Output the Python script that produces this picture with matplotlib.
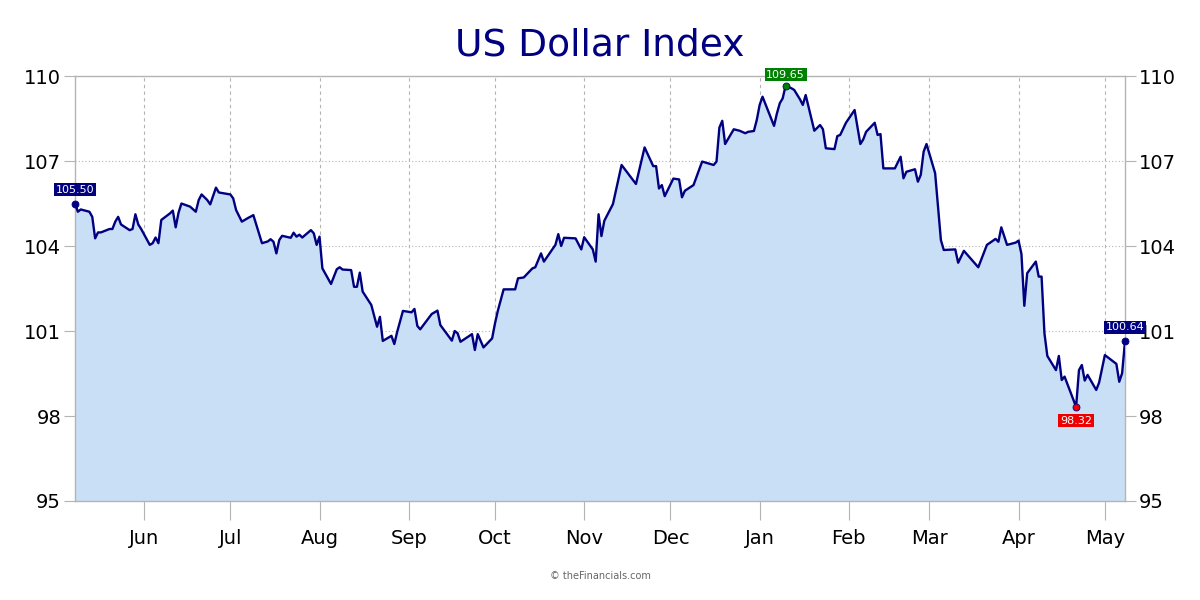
import matplotlib
matplotlib.use("Agg")
import matplotlib.pyplot as plt
import matplotlib.dates as mdates
import numpy as np
import pandas as pd

dates = [
 "2024-05-08","2024-05-09","2024-05-10","2024-05-13","2024-05-14","2024-05-15","2024-05-16","2024-05-17",
 "2024-05-20","2024-05-21","2024-05-22","2024-05-23","2024-05-24","2024-05-27","2024-05-28","2024-05-29",
 "2024-05-30","2024-05-31","2024-06-03","2024-06-04","2024-06-05","2024-06-06","2024-06-07","2024-06-10",
 "2024-06-11","2024-06-12","2024-06-13","2024-06-14","2024-06-17","2024-06-19","2024-06-20","2024-06-21",
 "2024-06-23","2024-06-24","2024-06-26","2024-06-27","2024-07-01","2024-07-02","2024-07-03","2024-07-05",
 "2024-07-07","2024-07-09","2024-07-12","2024-07-14","2024-07-15","2024-07-16","2024-07-17","2024-07-18",
 "2024-07-19","2024-07-22","2024-07-23","2024-07-24","2024-07-25","2024-07-26","2024-07-29","2024-07-30",
 "2024-07-31","2024-08-01","2024-08-02","2024-08-05","2024-08-07","2024-08-08","2024-08-09","2024-08-12",
 "2024-08-13","2024-08-14","2024-08-15","2024-08-16","2024-08-19","2024-08-21","2024-08-22","2024-08-23",
 "2024-08-26","2024-08-27","2024-08-28","2024-08-30","2024-09-02","2024-09-03","2024-09-04","2024-09-05",
 "2024-09-09","2024-09-11","2024-09-12","2024-09-16","2024-09-17","2024-09-18","2024-09-19","2024-09-23",
 "2024-09-24","2024-09-25","2024-09-27","2024-09-30","2024-10-01","2024-10-02","2024-10-04","2024-10-08",
 "2024-10-09","2024-10-11","2024-10-14","2024-10-15","2024-10-17","2024-10-18","2024-10-22","2024-10-23",
 "2024-10-24","2024-10-25","2024-10-29","2024-10-31","2024-11-01","2024-11-04","2024-11-05","2024-11-06",
 "2024-11-07","2024-11-08","2024-11-11","2024-11-14","2024-11-19","2024-11-22","2024-11-25","2024-11-26",
 "2024-11-27","2024-11-28","2024-11-29","2024-12-02","2024-12-04","2024-12-05","2024-12-06","2024-12-09",
 "2024-12-12","2024-12-16","2024-12-17","2024-12-18","2024-12-19","2024-12-20","2024-12-23","2024-12-25",
 "2024-12-27","2024-12-28","2024-12-30","2024-12-31","2025-01-01","2025-01-02","2025-01-06","2025-01-07",
 "2025-01-08","2025-01-09","2025-01-10","2025-01-12","2025-01-13","2025-01-15","2025-01-16","2025-01-17",
 "2025-01-20","2025-01-22","2025-01-23","2025-01-24","2025-01-27","2025-01-28","2025-01-29","2025-01-31",
 "2025-02-03","2025-02-05","2025-02-06","2025-02-07","2025-02-10","2025-02-11","2025-02-12","2025-02-13",
 "2025-02-17","2025-02-19","2025-02-20","2025-02-21","2025-02-24","2025-02-25","2025-02-26","2025-02-27",
 "2025-02-28","2025-03-03","2025-03-05","2025-03-06","2025-03-10","2025-03-11","2025-03-13","2025-03-18",
 "2025-03-21","2025-03-24","2025-03-25","2025-03-26","2025-03-28","2025-03-31","2025-04-01","2025-04-02",
 "2025-04-03","2025-04-04","2025-04-07","2025-04-08","2025-04-09","2025-04-10","2025-04-11","2025-04-14",
 "2025-04-15","2025-04-16","2025-04-17","2025-04-21","2025-04-22","2025-04-23","2025-04-24","2025-04-25",
 "2025-04-28","2025-04-29","2025-05-01","2025-05-05","2025-05-06","2025-05-07","2025-05-08",
]
values = [
 105.50,105.21,105.29,105.21,105.03,104.27,104.48,104.48,
 104.60,104.60,104.86,105.03,104.76,104.56,104.60,105.12,
 104.76,104.60,104.04,104.10,104.30,104.10,104.92,105.15,
 105.25,104.66,105.18,105.50,105.39,105.21,105.62,105.82,
 105.62,105.47,106.06,105.89,105.82,105.68,105.27,104.86,
 104.98,105.09,104.10,104.16,104.24,104.15,103.74,104.21,
 104.36,104.29,104.47,104.33,104.40,104.30,104.56,104.45,
 104.04,104.33,103.21,102.66,103.18,103.25,103.17,103.15,
 102.56,102.56,103.06,102.39,101.92,101.15,101.50,100.65,
 100.83,100.54,100.97,101.71,101.66,101.78,101.18,101.06,
 101.60,101.72,101.21,100.66,101.00,100.92,100.62,100.89,
 100.33,100.89,100.42,100.74,101.27,101.72,102.47,102.47,
 102.86,102.89,103.21,103.25,103.74,103.45,104.04,104.42,
 104.00,104.29,104.27,103.88,104.31,103.88,103.45,105.12,
 104.35,104.89,105.48,106.86,106.19,107.48,106.82,106.82,
 106.03,106.15,105.76,106.38,106.35,105.72,105.95,106.15,
 106.98,106.86,106.98,108.18,108.42,107.60,108.12,108.07,
 107.98,108.03,108.06,108.45,108.98,109.27,108.24,108.68,
 109.04,109.21,109.65,109.57,109.51,109.18,108.98,109.33,
 108.07,108.27,108.12,107.45,107.42,107.88,107.92,108.35,
 108.80,107.60,107.76,108.03,108.35,107.92,107.95,106.74,
 106.74,107.15,106.39,106.62,106.71,106.27,106.51,107.33,
 107.60,106.57,104.21,103.86,103.88,103.41,103.83,103.25,
 104.04,104.25,104.15,104.66,104.04,104.12,104.19,103.72,
 101.89,103.04,103.45,102.92,102.92,100.92,100.12,99.62,
 100.12,99.27,99.39,98.32,99.62,99.80,99.25,99.45,
 98.92,99.18,100.15,99.84,99.21,99.51,100.64,
]
y_ticks = [95, 98, 101, 104, 107, 110]
month_labels = ["Jun","Jul","Aug","Sep","Oct","Nov","Dec","Jan","Feb","Mar","Apr","May"]
month_starts = ["2024-06-01","2024-07-01","2024-08-01","2024-09-01","2024-10-01","2024-11-01",
                "2024-12-01","2025-01-01","2025-02-01","2025-03-01","2025-04-01","2025-05-01"]

x = pd.to_datetime(dates)
y = np.array(values)
mx = pd.to_datetime(month_starts)

NAVY = "#000080"
FILL = "#c8dff5"
GRID = "#b4b4b4"

fig = plt.figure(figsize=(12, 6), dpi=100)
ax = fig.add_axes([0.0625, 0.165, 0.875, 0.7083])
ax.fill_between(x, y, 95, color=FILL, linewidth=0, zorder=1)
ax.plot(x, y, color=NAVY, linewidth=1.7, zorder=3)

ax.set_xlim(x[0], x[-1])
ax.set_ylim(95, 110)
ax.set_yticks(y_ticks)
ax.set_yticklabels([str(v) for v in y_ticks])
ax.tick_params(axis="y", which="both", labelsize=14, length=8, color=GRID, pad=2,
               labelleft=True, labelright=True, left=True, right=True)
ax.set_xticks(mx)
ax.set_xticklabels(month_labels)
ax.tick_params(axis="x", labelsize=14, length=14, color=GRID, pad=6)
ax.grid(True, axis="y", linestyle=(0, (1, 2)), color=GRID, linewidth=0.8, zorder=0)
ax.grid(True, axis="x", linestyle=(0, (3, 3)), color=GRID, linewidth=0.8, zorder=0)
ax.set_axisbelow(True)
for s in ["left", "right", "bottom", "top"]:
    ax.spines[s].set_color(GRID)
    ax.spines[s].set_linewidth(1.0)

fig.text(0.5, 0.925, "US Dollar Index", ha="center", va="center", fontsize=27, color=NAVY)
fig.text(0.5, 0.04, "© theFinancials.com", ha="center", va="center", fontsize=7, color="#666666")

imax = int(np.argmax(y)); imin = int(np.argmin(y))
def mark(i, color, dy, ha="center"):
    ax.plot(x[i], y[i], "o", color=color, markersize=5, zorder=5, markeredgecolor=NAVY,
            markeredgewidth=0.6, clip_on=False)
    ax.annotate(f"{y[i]:.2f}", (x[i], y[i]), xytext=(0, dy), textcoords="offset points",
                ha=ha, va="center", fontsize=8, color="white", zorder=6, annotation_clip=False,
                bbox=dict(boxstyle="square,pad=0.15", fc=color, ec="none"))
mark(0, NAVY, 10)
mark(imax, "#008000", 8)
mark(imin, "#ee0000", -10)
mark(len(y) - 1, NAVY, 10)

fig.savefig("out.png", dpi=100)
